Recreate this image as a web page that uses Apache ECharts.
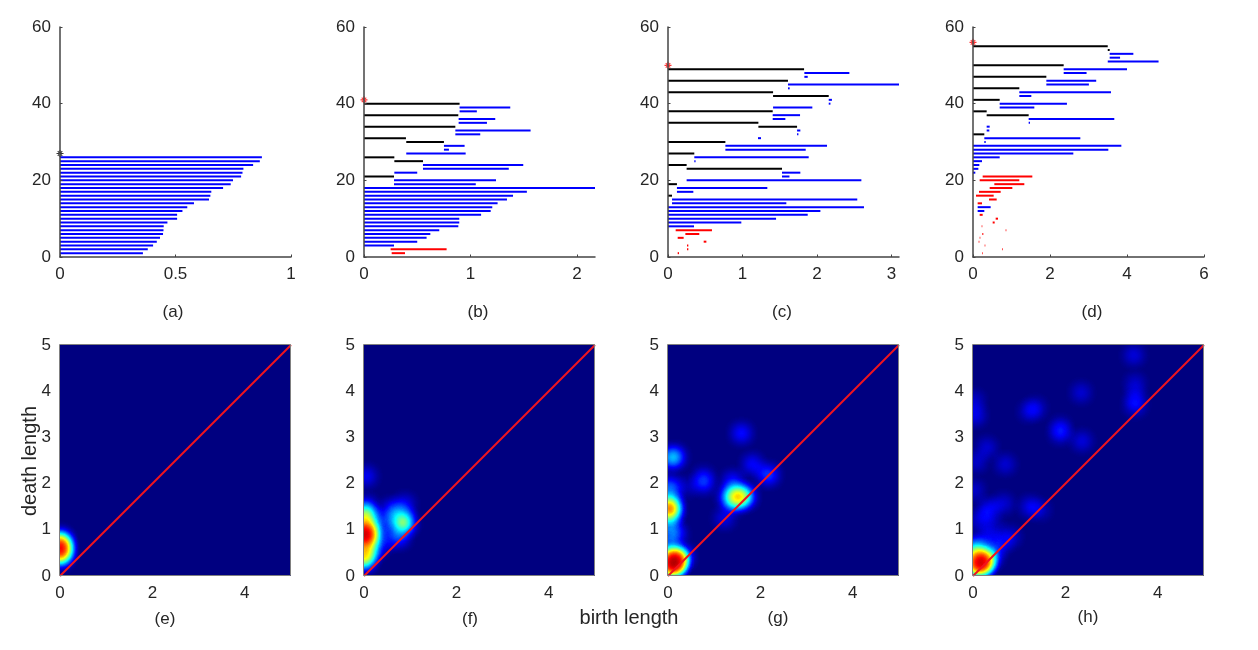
<!DOCTYPE html>
<html>
<head>
<meta charset="utf-8">
<style>
  html, body { margin: 0; padding: 0; background: #fff; }
  #chart { width: 1258px; height: 650px; }
</style>
<script src="https://cdn.jsdelivr.net/npm/echarts@6/dist/echarts.min.js"></script>
</head>
<body>
<div id="chart"></div>
<script>
// barcodes: [birth, death, row, homology dim]
const barsA = [
  [0,.359,1,1],[0,.38,2,1],[0,.403,3,1],[0,.419,4,1],[0,.433,5,1],[0,.446,6,1],[0,.448,7,1],[0,.449,8,1],
  [0,.465,9,1],[0,.507,10,1],[0,.507,11,1],[0,.53,12,1],[0,.551,13,1],[0,.58,14,1],[0,.645,15,1],[0,.651,16,1],
  [0,.655,17,1],[0,.706,18,1],[0,.739,19,1],[0,.749,20,1],[0,.784,21,1],[0,.79,22,1],[0,.794,23,1],[0,.836,24,1],
  [0,.865,25,1],[0,.874,26,1]
];
const barsB = [
  [.26,.385,1,2],[.25,.776,2,2],[0,.282,3,1],[0,.5,4,1],[0,.588,5,1],[0,.623,6,1],[0,.707,7,1],[0,.886,8,1],
  [0,.895,9,1],[0,.895,10,1],[0,1.1,11,1],[0,1.19,12,1],[0,1.205,13,1],[0,1.255,14,1],[0,1.343,15,1],[0,1.4,16,1],
  [0,1.53,17,1],[0,2.17,18,1],[.282,1.05,19,1],[.282,1.24,20,1],[0,.282,21,0],[.285,.5,22,1],[.554,1.36,23,1],
  [.554,1.496,24,1],[.285,.554,25,0],[0,.285,26,0],[.397,.955,27,1],[.751,.798,28,1],[.751,.945,29,1],[.397,.751,30,0],
  [0,.394,31,0],[.858,1.092,32,1],[.858,1.565,33,1],[0,.858,34,0],[.889,1.155,35,1],[.889,1.233,36,1],[0,.886,37,0],
  [.898,1.06,38,1],[.898,1.374,39,1],[0,.898,40,0]
];
const barsC = [
  [.13,.148,1,2],[.255,.273,2,2],[.255,.273,3,2],[.479,.515,4,2],[.13,.21,5,2],[.233,.42,6,2],[.103,.59,7,2],
  [0,.349,8,1],[0,.984,9,1],[0,1.45,10,1],[0,1.875,11,1],[0,2.045,12,1],[0,2.63,13,1],[.054,1.588,14,1],[.054,2.54,15,1],
  [0,.054,16,0],[.12,.34,17,1],[.12,1.333,18,1],[0,.12,19,0],[.25,2.595,20,1],[1.53,1.63,21,1],[1.53,1.776,22,1],
  [.25,1.53,23,0],[0,.25,24,0],[.353,.37,25,1],[.353,1.888,26,1],[0,.353,27,0],[.77,1.848,28,1],[.77,2.134,29,1],
  [0,.77,30,0],[1.208,1.248,31,1],[1.732,1.75,32,1],[1.732,1.776,33,1],[1.213,1.732,34,0],[0,1.213,35,0],
  [1.405,1.575,36,1],[1.405,1.772,37,1],[0,1.405,38,0],[1.41,1.937,39,1],[2.157,2.18,40,1],[2.157,2.2,41,1],
  [1.41,2.157,42,0],[0,1.41,43,0],[1.61,1.633,44,1],[1.61,3.1,45,1],[0,1.61,46,0],[1.83,1.875,47,1],[1.83,2.434,48,1],
  [0,1.826,49,0]
];
const barsD = [
  [.234,.251,1,2],[.753,.771,2,2],[.303,.32,3,2],[.147,.165,4,2],[.173,.19,5,2],[.242,.268,6,2],[.848,.866,7,2],
  [.225,.242,8,2],[.511,.563,9,2],[.589,.649,10,2],[.173,.251,11,2],[.121,.294,12,1],[.121,.459,13,1],[.121,.234,14,2],
  [.416,.615,15,2],[.078,.537,16,2],[.156,.719,17,2],[.433,1.022,18,2],[.554,1.333,19,2],[.173,1.203,20,2],[.251,1.541,21,2],
  [0,.06,22,1],[0,.139,23,1],[0,.165,24,1],[0,.234,25,1],[0,.693,26,1],[0,2.606,27,1],[0,3.515,28,1],[0,3.853,29,1],
  [.294,.33,30,1],[.294,2.788,31,1],[0,.294,32,0],[.355,.424,33,1],[.355,.433,34,1],[1.446,1.48,35,1],[1.446,3.67,36,1],
  [.355,1.446,37,0],[0,.355,38,0],[.693,1.593,39,1],[.693,2.44,40,1],[0,.693,41,0],[1.203,1.515,42,1],[1.203,3.584,43,1],
  [0,1.203,44,0],[1.905,3.01,45,1],[1.905,3.2,46,1],[0,1.905,47,0],[2.355,2.95,48,1],[2.355,4,49,1],[0,2.355,50,0],
  [3.5,4.82,51,1],[3.55,3.82,52,1],[3.55,4.165,53,1],[3.5,3.55,54,0],[0,3.5,55,0]
];

// star on the y axis of each barcode: [x, y]
const starA = [0, 27];
const starB = [0, 41];
const starC = [0, 50];
const starD = [0, 56];

// persistence image blobs: [birth, death, weight]
const blobsE = [[0,.5,1],[0,.6,1],[0,.7,1],[.03,.6,.8],[0,.4,.5],[0,.8,.5]];
const blobsF = [
  [0,.9,1],[0,.9,1],[0,.9,1],[0,.75,.8],[0,1.05,.8],[0,.5,.9],[0,.35,.9],[0,1.3,.9],[.12,.9,.7],[.1,.55,.5],[.1,1.25,.5],
  [.05,1.5,.35],[.25,.95,.3],[.25,.6,.25],[.86,1.15,1],[.8,1.3,.3],[.55,1.15,.28],[.6,1.43,.35],[.88,1.55,.25],
  [.75,.85,.4],[.45,.75,.2],[.3,1.2,.15],[.05,2.16,.25]
];
const blobsG = [
  [.12,.29,1],[.12,.29,1],[.12,.29,1],[.12,.29,1],[.08,.2,.8],[.18,.38,.8],[.3,.42,.6],[.05,.55,.4],
  [.03,1.46,1],[.03,1.46,1],[.03,1.3,.4],[.03,1.65,.4],[.05,1.93,.45],[.14,2.58,.5],[.05,2.55,.3],[.42,1.93,.12],
  [.77,2,.28],[.77,2.15,.2],[1.5,1.73,1],[1.65,1.72,.8],[1.33,1.72,.5],[1.4,2.05,.3],[1.45,1.6,.4],[1.59,3.09,.3],
  [1.83,2.42,.28],[2.17,2.19,.4],[1.22,1.25,.22],[.1,.95,.3],[.2,.9,.2],[0,1.1,.25],[0,.7,.2]
];
const blobsH = [
  [.17,.29,1],[.17,.29,1],[.17,.29,1],[.1,.2,.8],[.24,.38,.6],[0,.55,.6],[.1,.6,.4],[.4,.45,.45],[.3,.3,.3],
  [.8,.85,.2],[.6,.7,.22],[.3,.8,.22],[0,.3,.4],
  [3.48,4.78,.2],[3.51,4.17,.16],[3.51,3.9,.14],[3.51,3.7,.25],[2.34,3.97,.18],[1.35,3.63,.2],[1.2,3.56,.15],
  [1.89,3.09,.23],[1.89,3.23,.16],[2.36,2.92,.2],[.7,2.42,.18],[.3,2.78,.18],[.08,2.47,.16],[.05,3.48,.23],[.03,3.8,.16],
  [.03,1.86,.16],[.34,1.44,.27],[.16,1.2,.2],[.66,1.57,.18],[1.24,1.5,.23],[1.46,1.43,.14],[.45,1.07,.14]
];

const topXTicks = [[0, .5, 1], [0, 1, 2], [0, 1, 2, 3], [0, 2, 4, 6]];
const topXMax = [1, 2.17, 3.1, 6];
const topYTicks = [0, 20, 40, 60];
const bottomTicksX = [0, 2, 4];
const bottomTicksY = [0, 1, 2, 3, 4, 5];
const diagonal = [[0, 0], [5, 5]];
const captions = ['(a)', '(b)', '(c)', '(d)', '(e)', '(f)', '(g)', '(h)'];

const barSets = [barsA, barsB, barsC, barsD];
const starSets = [starA, starB, starC, starD];
const blobSets = [blobsE, blobsF, blobsG, blobsH];

const FONT = '"Liberation Sans", Arial, sans-serif';
const TEXT = '#262626';
const AXIS = '#444';
const dimColors = ['#000000', '#0000ff', '#ff0000'];
const jet = ['#000080', '#0000ff', '#0080ff', '#00ffff', '#80ff80', '#ffff00', '#ff8000', '#ff0000', '#800000'];
const starPath = 'path://M4.2 0h1.6v10h-1.6z M0 4.2h10v1.6h-10z M1.2 2.3l1.1-1.1 6.5 6.5-1.1 1.1z M8.8 2.3l-1.1-1.1-6.5 6.5 1.1 1.1z';

const lefts = [60, 364, 668, 973];
const plotW = 231;
const topY = 27, topH = 230;
const botY = 345, botH = 231;

echarts.registerMap('square', {
  type: 'FeatureCollection',
  features: [{
    type: 'Feature',
    properties: { name: 'square' },
    geometry: { type: 'Polygon', coordinates: [[[0, 0], [5, 0], [5, 5], [0, 5], [0, 0]]] }
  }]
});

const grids = [], xAxes = [], yAxes = [], geos = [], series = [], heatIdx = [];

const axisCommon = {
  min: 0,
  type: 'value',
  splitLine: { show: false },
  axisLabel: { color: TEXT, fontSize: 17, fontFamily: FONT, margin: 9 },
  z: 10
};

lefts.forEach((left, i) => {
  grids.push({ left: left, top: topY, width: plotW, height: topH });
  xAxes.push(Object.assign({}, axisCommon, {
    gridIndex: i, max: topXMax[i],
    axisLine: { show: true, lineStyle: { color: AXIS, width: 1.5 } },
    axisTick: { inside: true, length: 2.5, customValues: topXTicks[i], lineStyle: { color: AXIS } },
    axisLabel: Object.assign({}, axisCommon.axisLabel, { customValues: topXTicks[i] })
  }));
  yAxes.push(Object.assign({}, axisCommon, {
    gridIndex: i, max: 60,
    axisLine: { show: true, onZero: false, lineStyle: { color: AXIS, width: 1.5 } },
    axisTick: { inside: true, length: 2.5, customValues: topYTicks, lineStyle: { color: AXIS } },
    axisLabel: Object.assign({}, axisCommon.axisLabel, { customValues: topYTicks, margin: 9 })
  }));
  series.push({
    type: 'custom',
    xAxisIndex: i, yAxisIndex: i,
    data: barSets[i],
    encode: { x: [0, 1], y: 2 },
    clip: false,
    z: 3,
    silent: true,
    renderItem: (params, api) => {
      const a = api.coord([api.value(0), api.value(2)]);
      const b = api.coord([api.value(1), api.value(2)]);
      return {
        type: 'line',
        shape: { x1: a[0], y1: a[1], x2: b[0], y2: b[1] },
        style: { stroke: dimColors[api.value(3)], lineWidth: 2 }
      };
    }
  });
  series.push({
    type: 'scatter',
    xAxisIndex: i, yAxisIndex: i,
    data: [starSets[i]],
    symbol: starPath,
    symbolSize: 7,
    clip: false,
    z: 6,
    silent: true,
    itemStyle: { color: i === 0 ? '#000000' : '#ff0000' }
  });
});

lefts.forEach((left, i) => {
  const g = i + 4;
  grids.push({
    left: left, top: botY, width: plotW, height: botH,
    show: true, backgroundColor: jet[0], borderWidth: 0
  });
  xAxes.push(Object.assign({}, axisCommon, {
    gridIndex: g, max: 5,
    axisLine: { show: false },
    axisTick: { show: false },
    axisLabel: Object.assign({}, axisCommon.axisLabel, { customValues: bottomTicksX })
  }));
  yAxes.push(Object.assign({}, axisCommon, {
    gridIndex: g, max: 5,
    axisLine: { show: false },
    axisTick: { show: false },
    axisLabel: Object.assign({}, axisCommon.axisLabel, { customValues: bottomTicksY, margin: 9 })
  }));
  geos.push({
    map: 'square',
    aspectScale: 1,
    roam: false,
    silent: true,
    left: left, top: botY, width: plotW, height: botH,
    label: { show: false },
    itemStyle: { areaColor: 'rgba(0,0,0,0)', borderWidth: 0 }
  });
  heatIdx.push(series.length);
  series.push({
    type: 'heatmap',
    coordinateSystem: 'geo',
    geoIndex: i,
    data: blobSets[i],
    pointSize: 7,
    blurSize: 13,
    minOpacity: 1,
    maxOpacity: 1,
    z: 2,
    silent: true
  });
  series.push({
    type: 'line',
    xAxisIndex: g, yAxisIndex: g,
    data: diagonal,
    symbol: 'none',
    z: 5,
    silent: true,
    lineStyle: { color: '#f0141e', width: 2 }
  });
});

const captionPos = [[173, 312], [478, 312], [782, 312], [1092, 312], [165, 619], [470, 619], [778, 618], [1088, 617]];
const graphic = captions.map((c, i) => ({
  type: 'text', x: captionPos[i][0], y: captionPos[i][1], silent: true,
  style: { text: c, align: 'center', verticalAlign: 'middle', fill: TEXT, fontSize: 17, fontFamily: FONT }
}));
graphic.push({
  type: 'text', x: 629, y: 618, silent: true,
  style: { text: 'birth length', align: 'center', verticalAlign: 'middle', fill: TEXT, fontSize: 20, fontFamily: FONT }
});
graphic.push({
  type: 'text', x: 30, y: 461, rotation: Math.PI / 2, silent: true,
  style: { text: 'death length', align: 'center', verticalAlign: 'middle', fill: TEXT, fontSize: 20, fontFamily: FONT }
});
// frame of the image panels has to sit above the heat layer
lefts.forEach(left => {
  graphic.push({
    type: 'rect', z: 20, silent: true,
    shape: { x: left - .5, y: botY - .5, width: plotW, height: botH },
    style: { fill: 'none', stroke: '#808080', lineWidth: 1 }
  });
});

const chart = echarts.init(document.getElementById('chart'));
chart.setOption({
  animation: false,
  backgroundColor: '#ffffff',
  grid: grids,
  xAxis: xAxes,
  yAxis: yAxes,
  geo: geos,
  visualMap: { show: false, min: 0, max: 1, seriesIndex: heatIdx, inRange: { color: jet } },
  series: series,
  graphic: graphic
});
</script>
</body>
</html>
